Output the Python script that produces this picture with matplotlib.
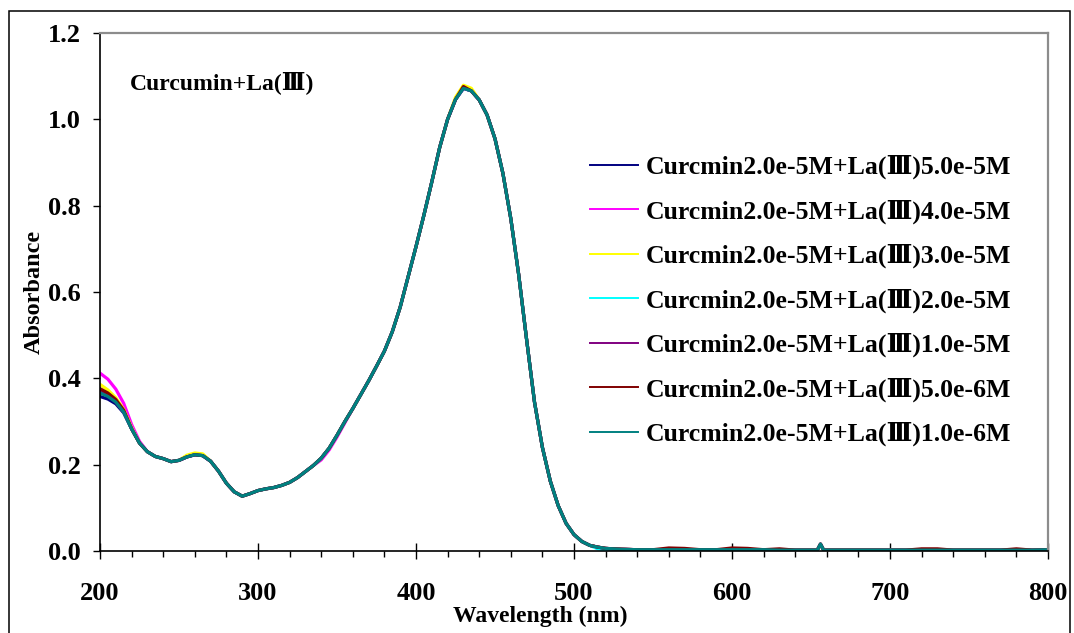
import numpy as np
import matplotlib
matplotlib.use("Agg")
import matplotlib.pyplot as plt
from matplotlib.lines import Line2D
from matplotlib.patches import Rectangle
from matplotlib.ticker import MultipleLocator, FormatStrFormatter

plt.rcParams['font.family'] = ['Liberation Serif', 'DejaVu Serif']
plt.rcParams['font.weight'] = 'bold'

# Wavelength grid (nm) and the common absorbance profile
wavelength = [200, 205, 210, 215, 220, 225, 230, 235, 240, 245,
              250, 255, 260, 265, 270, 275, 280, 285, 290, 295,
              300, 305, 310, 315, 320, 325, 330, 335, 340, 345,
              350, 355, 360, 365, 370, 375, 380, 385, 390, 395,
              400, 405, 410, 415, 420, 425, 430, 435, 440, 445,
              450, 455, 460, 465, 470, 475, 480, 485, 490, 495,
              500, 505, 510, 515, 520, 530, 540, 550, 560, 570,
              580, 590, 600, 610, 620, 630, 640, 650, 654, 656,
              658, 662, 670, 680, 690, 700, 710, 720, 730, 740,
              750, 760, 770, 780, 790, 800]
absorbance = [0.366, 0.358, 0.345, 0.322, 0.283, 0.250, 0.230, 0.219, 0.214, 0.207,
              0.210, 0.218, 0.223, 0.221, 0.208, 0.185, 0.157, 0.137, 0.127, 0.133,
              0.140, 0.144, 0.147, 0.152, 0.159, 0.170, 0.184, 0.198, 0.215, 0.238,
              0.268, 0.300, 0.330, 0.362, 0.394, 0.428, 0.463, 0.508, 0.565, 0.635,
              0.705, 0.778, 0.855, 0.935, 1.000, 1.046, 1.072, 1.066, 1.045, 1.010,
              0.955, 0.875, 0.770, 0.640, 0.490, 0.345, 0.240, 0.162, 0.105, 0.064,
              0.038, 0.022, 0.013, 0.009, 0.006, 0.004, 0.003, 0.003, 0.003, 0.003,
              0.003, 0.003, 0.003, 0.003, 0.003, 0.002, 0.002, 0.002, 0.002, 0.016,
              0.002, 0.002, 0.002, 0.002, 0.002, 0.002, 0.002, 0.002, 0.002, 0.002,
              0.002, 0.002, 0.002, 0.002, 0.002, 0.003]

# Per-solution deviations from the common profile, keyed by wavelength
dev_50e5 = {200: -0.008, 205: -0.006, 210: -0.004, 215: -0.002}
dev_40e5 = {200: 0.046, 205: 0.040, 210: 0.030, 215: 0.020, 220: 0.010, 225: 0.004,
            340: -0.004, 345: -0.004, 350: -0.004, 355: -0.003}
dev_30e5 = {200: 0.020, 205: 0.015, 210: 0.010, 215: 0.006, 220: 0.003,
            255: 0.004, 260: 0.004, 265: 0.004, 425: 0.005, 430: 0.007, 435: 0.006}
dev_20e5 = {200: 0.008, 205: 0.006, 210: 0.004, 515: -0.004, 520: -0.004, 530: -0.002}
dev_10e5 = {200: 0.004, 205: 0.003}
dev_50e6 = {200: 0.010, 205: 0.008, 210: 0.006, 215: 0.004, 430: 0.004,
            560: 0.004, 570: 0.003, 600: 0.004, 610: 0.003, 630: 0.003,
            720: 0.003, 730: 0.003, 780: 0.003}
dev_10e6 = {}

labels = ["Curcmin2.0e-5M+La(Ⅲ)5.0e-5M",
          "Curcmin2.0e-5M+La(Ⅲ)4.0e-5M",
          "Curcmin2.0e-5M+La(Ⅲ)3.0e-5M",
          "Curcmin2.0e-5M+La(Ⅲ)2.0e-5M",
          "Curcmin2.0e-5M+La(Ⅲ)1.0e-5M",
          "Curcmin2.0e-5M+La(Ⅲ)5.0e-6M",
          "Curcmin2.0e-5M+La(Ⅲ)1.0e-6M"]
deviations = [dev_50e5, dev_40e5, dev_30e5, dev_20e5, dev_10e5, dev_50e6, dev_10e6]
colors = ["#000080", "#FF00FF", "#FFFF00", "#00FFFF", "#800080", "#800000", "#008080"]

W, H = 1074, 633
fig = plt.figure(figsize=(W / 100, H / 100), dpi=100)
ax = fig.add_axes([100 / W, 1 - 551 / H, 948 / W, 518 / H])

wl = np.array(wavelength, dtype=float)
base = np.array(absorbance)
for dev, col in zip(deviations, colors):
    y = base + np.array([dev.get(w, 0.0) for w in wavelength])
    ax.plot(wl, y, color=col, lw=2.3, solid_joinstyle='round')

ax.set_xlim(200, 800)
ax.set_ylim(0, 1.2)
ax.xaxis.set_major_locator(MultipleLocator(100))
ax.xaxis.set_minor_locator(MultipleLocator(20))
ax.yaxis.set_major_locator(MultipleLocator(0.2))
ax.yaxis.set_major_formatter(FormatStrFormatter('%.1f'))

for side in ('top', 'right'):
    ax.spines[side].set_color('#8c8c8c')
    ax.spines[side].set_linewidth(1.6)
for side in ('left', 'bottom'):
    ax.spines[side].set_color('black')
    ax.spines[side].set_linewidth(1.2)

ax.tick_params(axis='x', which='major', direction='inout', length=11.5, width=1.0,
               pad=16.5, labelsize=19)
ax.tick_params(axis='x', which='minor', direction='out', length=4.3, width=1.0)
ax.tick_params(axis='y', which='major', direction='out', length=5, width=1.0,
               pad=9, labelsize=19)
for lab in ax.get_xticklabels() + ax.get_yticklabels():
    lab.set_fontweight('bold')

ax.set_xlabel("Wavelength (nm)", fontsize=17, fontweight='bold')
ax.xaxis.set_label_coords(440 / 948, -55 / 518)
ax.set_ylabel("Absorbance", fontsize=17.5, fontweight='bold', labelpad=2)

ax.text(0.031, 0.905, "Curcumin+La(Ⅲ)", transform=ax.transAxes,
        fontsize=17, fontweight='bold', va='center', ha='left')

handles = [Line2D([], [], color=c, lw=1.4) for c in colors]
ax.legend(handles, labels, loc='upper left', bbox_to_anchor=(590 / W, 1 - 155 / H),
          bbox_transform=fig.transFigure, frameon=False,
          handlelength=1.88, handletextpad=0.28, labelspacing=0.78,
          borderpad=0, borderaxespad=0, prop={'weight': 'bold', 'size': 18.5})

fig.patches.append(Rectangle((9 / W, -0.05), 1061 / W, 1.05 - 11 / H,
                             transform=fig.transFigure, fill=False,
                             edgecolor='black', lw=1.1))

fig.savefig("out.png", dpi=100)
